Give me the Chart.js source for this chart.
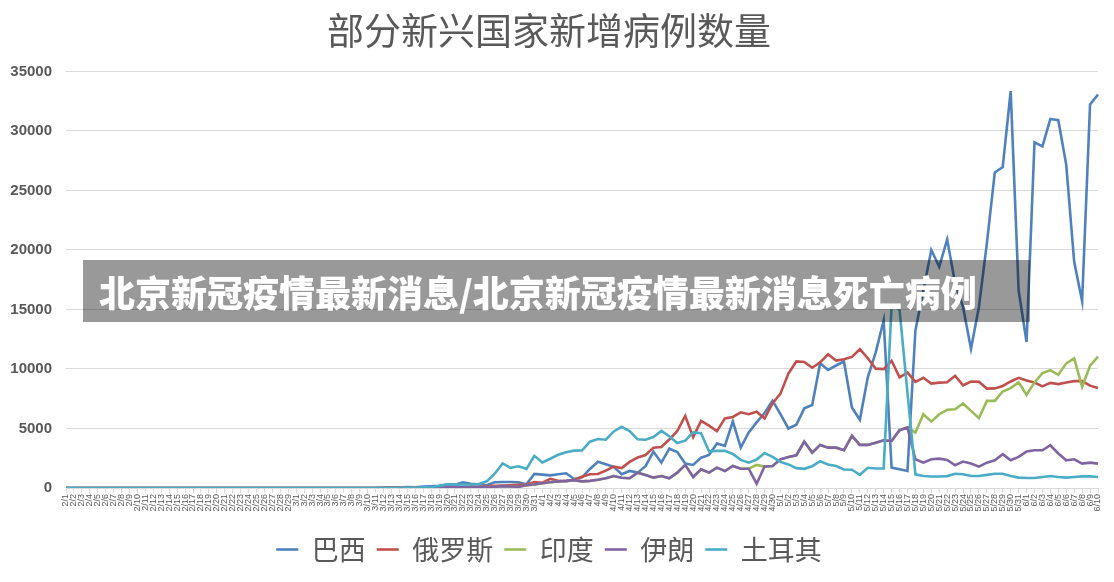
<!DOCTYPE html>
<html><head><meta charset="utf-8">
<script src="https://cdn.jsdelivr.net/npm/chart.js@4.4.1/dist/chart.umd.min.js"></script>
<style>
html,body{margin:0;padding:0;background:#fff;}
#wrap{position:relative;width:1114px;height:582px;}
canvas{display:block;}
#banner{position:absolute;left:83px;top:260px;width:947px;height:62px;background:rgba(0,0,0,0.4);color:#fff;font-family:'Noto Sans CJK SC',sans-serif;font-weight:900;font-size:36px;line-height:62px;padding-left:16px;box-sizing:border-box;white-space:nowrap;overflow:hidden;}
</style></head><body>
<div id="wrap"><canvas id="c" width="1114" height="582"></canvas><div id="banner">北京新冠疫情最新消息/北京新冠疫情最新消息死亡病例</div></div>
<script>
const dates = [
'2/1','2/2','2/3','2/4','2/5','2/6','2/7','2/8','2/9','2/10','2/11','2/12','2/13','2/14','2/15','2/16','2/17','2/18','2/19','2/20','2/21','2/22','2/23','2/24','2/25','2/26','2/27','2/28','2/29',
'3/1','3/2','3/3','3/4','3/5','3/6','3/7','3/8','3/9','3/10','3/11','3/12','3/13','3/14','3/15','3/16','3/17','3/18','3/19','3/20','3/21','3/22','3/23','3/24','3/25','3/26','3/27','3/28','3/29','3/30','3/31',
'4/1','4/2','4/3','4/4','4/5','4/6','4/7','4/8','4/9','4/10','4/11','4/12','4/13','4/14','4/15','4/16','4/17','4/18','4/19','4/20','4/21','4/22','4/23','4/24','4/25','4/26','4/27','4/28','4/29','4/30',
'5/1','5/2','5/3','5/4','5/5','5/6','5/7','5/8','5/9','5/10','5/11','5/12','5/13','5/14','5/15','5/16','5/17','5/18','5/19','5/20','5/21','5/22','5/23','5/24','5/25','5/26','5/27','5/28','5/29','5/30','5/31',
'6/1','6/2','6/3','6/4','6/5','6/6','6/7','6/8','6/9','6/10'];

const brazil = [
0,0,0,0,0,0,0,0,0,0, 0,0,0,0,0,0,0,0,0,0, 0,0,0,0,0,0,0,0,0,0, 0,0,0,0,0,0,0,0,0,0,
20,40,40,80,60,120,150,180,280,280,480,350,320,230,480,500,500,480,320,1180,
1120,1060,1160,1240,760,900,1600,2210,1990,1780,1150,1430,1290,1830,3060,2130,3300,3020,2050,1940,2550,2780,3740,3540,5600,3400,4670,5510,6300,7340,
6210,5000,5310,6690,6970,10480,9920,10290,10630,6770,5730,9300,11400,14080,1710,1570,1430,13240,16600,19990,18580,20890,17200,15210,11700,15210,20550,26510,26960,33340,16610,
12260,29040,28700,31000,30900,27150,19000,15690,32220,33060];

const russia = [
0,0,0,0,0,0,0,0,0,0, 0,0,0,0,0,0,0,0,0,0, 0,0,0,0,0,0,0,0,0,0, 0,0,0,0,0,0,0,0,0,0,
10,10,15,20,30,20,30,50,50,50,60,70,60,160,180,200,230,270,300,500,
440,770,600,580,660,950,1150,1175,1460,1790,1670,2190,2560,2770,3390,3450,4070,4790,6060,4270,5640,5240,4770,5850,5970,6360,6200,6410,5840,7100,
7930,9620,10630,10580,10100,10560,11230,10700,10820,11010,11660,10900,10030,9990,10690,9290,9700,8920,9260,8770,8850,8890,9430,8630,8950,8920,8350,8370,8570,8950,9260,
9030,8860,8540,8830,8730,8860,8980,8980,8600,8400];

const india = [
0,0,0,0,0,0,0,0,0,0, 0,0,0,0,0,0,0,0,0,0, 0,0,0,0,0,0,0,0,0,0, 0,0,0,0,0,0,0,0,0,0,
10,10,20,20,20,30,30,50,50,80,80,100,100,80,100,160,130,100,230,300,
400,480,560,600,660,560,600,700,820,1010,860,820,1290,1090,870,1010,820,1290,1940,930,1570,1290,1710,1430,1850,1620,1620,1940,1800,1850,
2410,2610,2750,3900,2970,3620,3390,3390,3170,4380,3620,3620,3810,4010,3950,4860,5080,4660,6200,5580,6200,6570,6620,7100,6480,5870,7320,7320,8110,8390,8870,
7830,8870,9650,9900,9510,10470,10890,8500,10270,11030];

const iran = [
0,0,0,0,0,0,0,0,0,0, 0,0,0,0,0,0,0,0,0,0, 0,0,0,0,0,0,0,0,0,0, 0,0,0,0,0,0,0,0,0,0,
10,10,20,20,20,30,30,50,50,80,80,100,100,80,100,160,130,100,230,300,
400,480,560,600,660,560,600,700,820,1010,860,820,1290,1090,870,1010,820,1290,1940,930,1570,1290,1710,1430,1850,1620,1620,360,1800,1850,
2410,2610,2750,3900,2970,3620,3390,3390,3170,4380,3620,3620,3810,4010,3950,4860,5080,2410,2130,2410,2470,2360,1910,2220,2050,1790,2130,2330,2840,2330,2610,
3060,3170,3170,3590,2900,2330,2410,2050,2130,2050];

const turkey = [
0,0,0,0,0,0,0,0,0,0, 0,0,0,0,0,0,0,0,0,0, 0,0,0,0,0,0,0,0,0,0, 0,0,0,0,0,0,0,0,0,0,
0,5,5,10,20,50,90,170,310,280,290,290,340,560,1200,2070,1700,1820,1610,2700,
2150,2460,2790,3010,3140,3150,3890,4120,4060,4750,5140,4790,4090,4060,4280,4800,4350,3780,3980,4670,4610,3080,3120,3120,2860,2360,2130,2390,2940,2620,
2190,1980,1670,1610,1830,2250,1980,1850,1550,1540,1110,1700,1640,1640,15350,14990,8000,1150,1010,960,960,1000,1200,1150,1010,1010,1100,1200,1200,1010,870,
840,840,920,1010,920,870,920,980,980,920];

const seriesNames = ['巴西','俄罗斯','印度','伊朗','土耳其'];
const seriesColors = ['#4F81BD','#C0504D','#9BBB59','#8064A2','#4BACC6'];
const seriesValues = [brazil, russia, india, iran, turkey];
const chartTitle = '部分新兴国家新增病例数量';
const yMin = 0, yMax = 35000, yStep = 5000;

const CJK = "'Noto Sans CJK SC', sans-serif";
const datasets = seriesNames.map((name, k) => ({
  label: name,
  data: seriesValues[k],
  borderColor: seriesColors[k],
  backgroundColor: seriesColors[k],
  borderWidth: 2.6,
  pointRadius: 0,
  tension: 0,
  fill: false,
  order: seriesNames.length - 1 - k
}));

new Chart(document.getElementById('c'), {
  type: 'line',
  data: { labels: dates, datasets },
  options: {
    responsive: false,
    animation: false,
    devicePixelRatio: 1,
    layout: { padding: { left: 0, right: 16, top: 0, bottom: 9 } },
    plugins: {
      title: {
        display: true, text: chartTitle, color: '#595959',
        font: { family: CJK, size: 37, weight: 'normal' },
        padding: { top: 9, bottom: 18 }
      },
      legend: {
        position: 'bottom',
        labels: {
          usePointStyle: true, pointStyle: 'line', pointStyleWidth: 22,
          color: '#595959', padding: 11,
          font: { family: CJK, size: 27 },
          sort: (a, b) => a.datasetIndex - b.datasetIndex
        }
      },
      tooltip: { enabled: false }
    },
    scales: {
      x: {
        grid: { display: true, drawOnChartArea: false, drawTicks: true, tickLength: 5, color: '#d9d9d9' },
        border: { color: '#d9d9d9' },
        ticks: { autoSkip: false, maxRotation: 90, minRotation: 90, color: '#595959', padding: 1,
                 font: { family: "'Liberation Sans', sans-serif", size: 9 } },
        afterFit: s => { s.height = 37; }
      },
      y: {
        min: yMin, max: yMax,
        grid: { color: '#d9d9d9', drawTicks: false },
        border: { display: false },
        ticks: { stepSize: yStep, color: '#595959', padding: 14,
                 font: { family: "'Liberation Sans', sans-serif", size: 15, weight: 'bold' },
                 callback: v => String(v) },
        afterFit: s => { s.width = 66; }
      }
    }
  }
});
</script>
</body></html>
